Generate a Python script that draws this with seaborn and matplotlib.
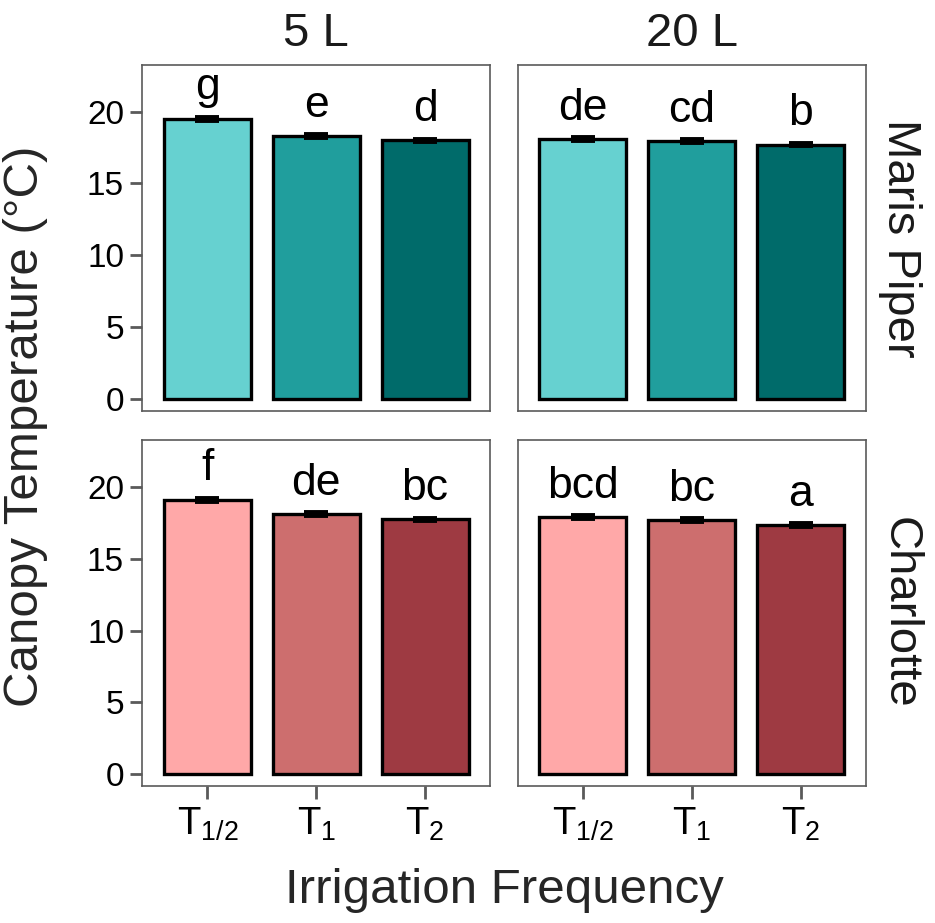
import seaborn as sns
import pandas as pd
import matplotlib.pyplot as plt

# data
cultivars = ["Maris Piper", "Charlotte"]
volumes = ["5 L", "20 L"]
freqs = ["T1/2", "T1", "T2"]
freq_labels = [r"$T_{1/2}$", r"$T_{1}$", r"$T_{2}$"]

maris_5 = [19.5, 18.3, 18.0]
maris_20 = [18.1, 17.95, 17.7]
charl_5 = [19.1, 18.1, 17.75]
charl_20 = [17.9, 17.7, 17.35]
se_all = [0.12, 0.12, 0.12]

letters_maris_5 = ["g", "e", "d"]
letters_maris_20 = ["de", "cd", "b"]
letters_charl_5 = ["f", "de", "bc"]
letters_charl_20 = ["bcd", "bc", "a"]

teal = ["#66D1D0", "#209E9D", "#006B6A"]
pink = ["#FFA8A8", "#CD6E6E", "#9E3A42"]

rows = []
for cv, vol, vals, labs in [
    ("Maris Piper", "5 L", maris_5, letters_maris_5),
    ("Maris Piper", "20 L", maris_20, letters_maris_20),
    ("Charlotte", "5 L", charl_5, letters_charl_5),
    ("Charlotte", "20 L", charl_20, letters_charl_20),
]:
    for f, v, s, l in zip(freqs, vals, se_all, labs):
        rows.append(dict(cultivar=cv, volume=vol, freq=f, temp=v, se=s, letter=l))
df = pd.DataFrame(rows)

sns.set_style("ticks")
plt.rcParams['font.family'] = ['Liberation Sans', 'DejaVu Sans']
plt.rcParams['mathtext.fontset'] = 'custom'
plt.rcParams['mathtext.rm'] = 'Liberation Sans'
plt.rcParams['mathtext.it'] = 'Liberation Sans'
plt.rcParams['mathtext.default'] = 'regular'

gray = "#5a5a5a"
fig, axes = plt.subplots(2, 2, figsize=(9.35, 9.23), dpi=100, sharey=True, sharex=True)
fig.subplots_adjust(left=0.152, right=0.926, top=0.9296, bottom=0.148, wspace=0.078, hspace=0.084)

for i, cv in enumerate(cultivars):
    pal = teal if i == 0 else pink
    for j, vol in enumerate(volumes):
        ax = axes[i, j]
        sub = df[(df.cultivar == cv) & (df.volume == vol)]
        sns.barplot(data=sub, x="freq", y="temp", hue="freq", order=freqs, hue_order=freqs,
                    palette=pal, errorbar=None, width=0.8, edgecolor="black",
                    linewidth=2.4, legend=False, saturation=1, ax=ax)
        ax.errorbar(range(len(freqs)), sub.temp, yerr=sub.se, fmt="none", ecolor="black",
                    elinewidth=2, capsize=8.5, capthick=2.8, zorder=5)
        for k, (v, l) in enumerate(zip(sub.temp, sub.letter)):
            ax.text(k, v + 1.35, l, ha="center", va="baseline", fontsize=32, color="black")
        ax.set_xlim(-0.6, 2.6)
        ax.set_ylim(-0.85, 23.25)
        ax.set_xlabel("")
        ax.set_ylabel("")
        for sp in ax.spines.values():
            sp.set_visible(True)
            sp.set_color(gray)
            sp.set_linewidth(1.2)
        ax.tick_params(axis="both", colors=gray, width=2, length=9, labelcolor="black")
        ax.tick_params(axis="y", labelsize=24, pad=4)
        ax.tick_params(axis="x", labelsize=27.5, pad=5)
        if j == 1:
            ax.tick_params(left=False)
        if i == 0:
            ax.tick_params(bottom=False)
            ax.set_title(vol, fontsize=34, pad=14, color="#1a1a1a")
        if j == 1:
            ax.text(1.035, 0.5, cv, transform=ax.transAxes, rotation=-90, ha="left",
                    va="center", fontsize=34, color="#1a1a1a")

axes[1, 0].set_yticks([0, 5, 10, 15, 20])
axes[1, 0].set_xticks(range(len(freqs)))
axes[1, 0].set_xticklabels(freq_labels)
axes[1, 1].set_xticklabels(freq_labels)

fig.text(0.027, 0.538, "Canopy Temperature (°C)", rotation=90, ha="center", va="center", fontsize=35.5)
fig.text(0.539, 0.035, "Irrigation Frequency", ha="center", va="center", fontsize=35.5)

plt.savefig("out.png", dpi=100)
